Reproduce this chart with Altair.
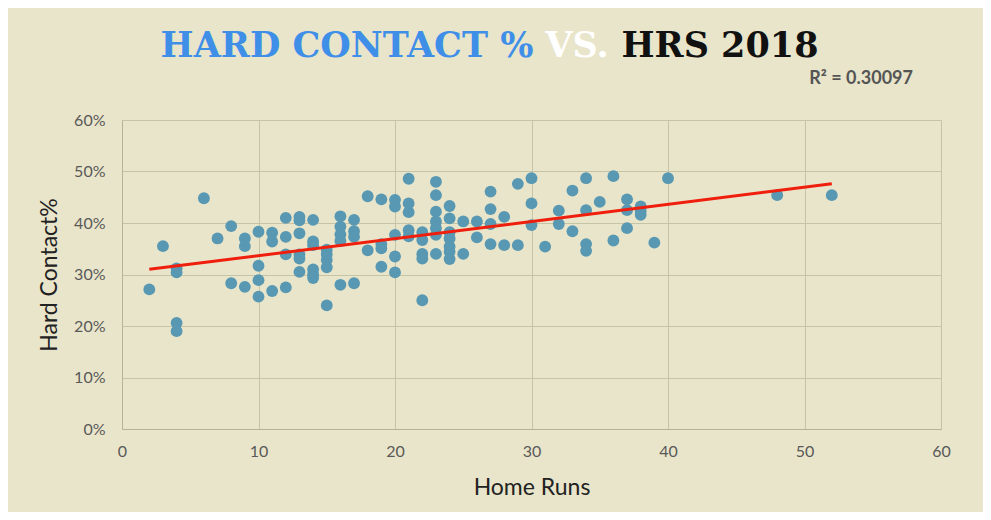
import altair as alt
import pandas as pd

# Home runs (x) and hard contact % (y) for each player
hr_runs = [
    2, 3, 4, 4, 4, 4, 6, 7, 8, 8,
    9, 9, 9, 10, 10, 10, 10, 11, 11, 11,
    12, 12, 12, 12, 13, 13, 13, 13, 13, 13,
    14, 14, 14, 14, 14, 14, 15, 15, 15, 15, 15,
    16, 16, 16, 16, 16, 17, 17, 17, 17, 18, 18,
    19, 19, 19, 19, 20, 20, 20, 20, 20,
    21, 21, 21, 21, 21, 22, 22, 22, 22, 22,
    23, 23, 23, 23, 23, 23, 23,
    24, 24, 24, 24, 24, 24, 24,
    25, 25, 26, 26, 27, 27, 27, 27, 28, 28, 29, 29,
    30, 30, 30, 31, 32, 32, 33, 33, 34, 34, 34, 34,
    35, 36, 36, 37, 37, 37, 38, 38, 38, 39, 40, 48, 52,
]
hard_contact = [
    27.1, 35.5, 31.2, 30.4, 20.6, 19.0, 44.8, 37.0, 39.4, 28.3,
    37.0, 35.5, 27.6, 38.3, 31.7, 28.9, 25.7, 38.1, 36.4, 26.8,
    41.0, 37.3, 33.9, 27.5, 41.2, 40.5, 38.0, 33.9, 33.1, 30.5,
    40.6, 36.4, 35.7, 31.0, 30.0, 29.3, 34.8, 33.9, 32.8, 31.4, 24.0,
    41.3, 39.3, 37.8, 36.5, 28.0, 40.6, 38.4, 37.3, 28.3, 45.2, 34.7,
    44.6, 35.9, 35.1, 31.5, 44.5, 43.2, 37.7, 33.5, 30.4,
    48.6, 43.8, 42.1, 38.6, 37.4, 38.2, 36.7, 34.0, 33.1, 25.0,
    48.0, 45.4, 42.2, 40.3, 39.0, 37.7, 34.0,
    43.3, 40.9, 38.2, 37.0, 35.4, 34.4, 33.0,
    40.3, 34.0, 40.3, 37.2, 46.1, 42.7, 39.8, 35.9, 41.2, 35.7, 47.6, 35.7,
    48.7, 43.8, 39.6, 35.4, 42.4, 39.8, 46.3, 38.4, 48.7, 42.5, 35.9, 34.6,
    44.1, 49.1, 36.6, 44.6, 42.5, 39.0, 43.2, 42.4, 41.6, 36.2, 48.7, 45.4, 45.4,
]
# Excel linear trendline as drawn in the picture (end points)
trend_hr = [2, 52]
trend_pct = [31.0, 47.6]
axis_ticks = [0, 10, 20, 30, 40, 50, 60]
r_squared_label = "R² = 0.30097"
title_parts = ["HARD CONTACT %", "VS.", "HRS 2018"]

df = pd.DataFrame({"hr": hr_runs, "pct": hard_contact})
trend_df = pd.DataFrame({"hr": trend_hr, "pct": trend_pct})

BG = "#e9e5ca"
GRID = "#c6c4a6"
FONT = "Lato"

x_enc = alt.X(
    "hr:Q",
    scale=alt.Scale(domain=[0, 60], nice=False, zero=True),
    axis=alt.Axis(
        values=axis_ticks, title="Home Runs", ticks=False, tickSize=0,
        labelPadding=14, titlePadding=17, labelFontSize=16, titleFontSize=23,
        labelColor="#595959", titleColor="#222222", labelFont=FONT, titleFont=FONT,
        titleFontWeight="normal", domainColor="#b4b398", gridColor=GRID,
        labelFlush=False,
    ),
)
y_enc = alt.Y(
    "pct:Q",
    scale=alt.Scale(domain=[0, 60], nice=False, zero=True),
    axis=alt.Axis(
        values=axis_ticks, title="Hard Contact%", ticks=False, tickSize=0,
        labelPadding=17, titlePadding=12, labelFontSize=16, titleFontSize=23,
        labelColor="#595959", titleColor="#222222", labelFont=FONT, titleFont=FONT,
        titleFontWeight="normal", labelExpr="datum.value + '%'",
        domainColor="#b4b398", gridColor=GRID, labelFlush=False,
    ),
)

points = alt.Chart(df).mark_circle(size=140, color="#5898b2", opacity=1).encode(x=x_enc, y=y_enc)

trend = (
    alt.Chart(trend_df)
    .mark_line(color="#f01e0c", strokeWidth=3)
    .encode(x="hr:Q", y="pct:Q")
)

t_df = pd.DataFrame({"t": title_parts})


def title_text(i, color, xpos):
    return (
        alt.Chart(t_df)
        .transform_filter(alt.datum.t == title_parts[i])
        .mark_text(
            font="DejaVu Serif", fontWeight="bold", fontSize=35, color=color,
            align="center", baseline="alphabetic",
        )
        .encode(x=alt.value(xpos), y=alt.value(-63), text="t:N")
    )


t1 = title_text(0, "#3f8fe8", 225)
t2 = title_text(1, "#ffffff", 455)
t3 = title_text(2, "#111111", 598)

r2 = (
    alt.Chart(pd.DataFrame({"t": [r_squared_label]}))
    .mark_text(font=FONT, fontWeight="bold", fontSize=18, color="#555555",
               align="right", baseline="alphabetic")
    .encode(x=alt.value(791), y=alt.value(-36), text="t:N")
)

chart = (
    alt.layer(points, trend, t1, t2, t3, r2)
    .properties(
        width=819, height=309,
        background=BG,
        autosize=alt.AutoSizeParams(type="none"),
        padding={"left": 114, "top": 112, "right": 42, "bottom": 83},
    )
    .configure_view(strokeWidth=0)
)

chart.save("out.html", embed_options={"renderer": "svg", "actions": False})
